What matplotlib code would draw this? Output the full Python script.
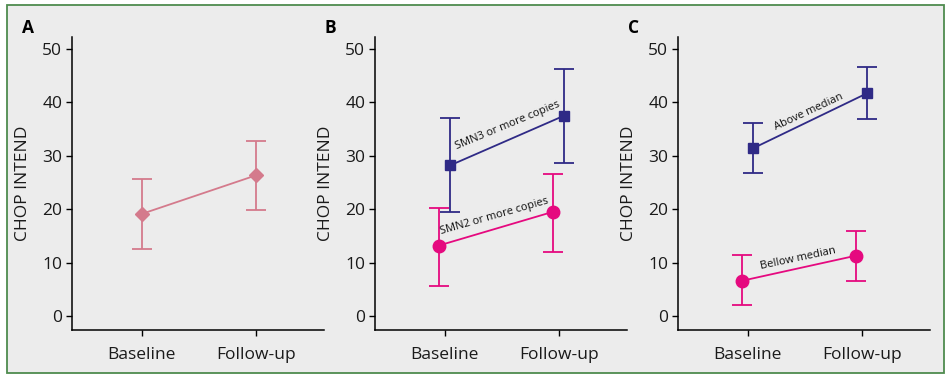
import matplotlib
matplotlib.use("Agg")
import matplotlib.pyplot as plt
from matplotlib.patches import Rectangle

plt.rcParams['font.family'] = ['Open Sans', 'DejaVu Sans']

timepoints = ["Baseline", "Follow-up"]

# Panel A: all patients
a_mean = [19.1, 26.3]
a_low = [12.5, 19.8]
a_high = [25.7, 32.8]

# Panel B: SMN copies
b_smn3_mean = [28.2, 37.5]
b_smn3_low = [19.4, 28.6]
b_smn3_high = [37.1, 46.3]
b_smn2_mean = [13.2, 19.5]
b_smn2_low = [5.7, 12.0]
b_smn2_high = [20.3, 26.6]

# Panel C: median split
c_above_mean = [31.4, 41.7]
c_above_low = [26.8, 36.9]
c_above_high = [36.2, 46.6]
c_below_mean = [6.6, 11.3]
c_below_low = [2.1, 6.6]
c_below_high = [11.4, 16.0]

ROSE = "#d47a8c"
INDIGO = "#2f2a86"
MAGENTA = "#e5097f"

W, H = 950, 375
fig = plt.figure(figsize=(9.5, 3.75), dpi=100, facecolor="white")
fig.patches.append(Rectangle((6.5 / W, 1 - 373 / H), (944 - 6.5) / W, (373 - 5) / H,
                             transform=fig.transFigure, facecolor="#ececec",
                             edgecolor="#4e8b4e", linewidth=1.3, zorder=-10))

lefts = [72, 375, 678]
ax_w = 252
ax_bottom = H - 330
ax_h = 330 - 37
letters = ["A", "B", "C"]


def draw(ax, xs, mean, low, high, color, marker, ms):
    yerr = [[m - l for m, l in zip(mean, low)], [h - m for m, h in zip(mean, high)]]
    ax.errorbar(xs, mean, yerr=yerr, color=color, marker=marker, ms=ms,
                lw=1.3, elinewidth=1.3, capsize=7.5, capthick=1.3, zorder=3)


axes = []
for i, l in enumerate(lefts):
    ax = fig.add_axes([l / W, ax_bottom / H, ax_w / W, ax_h / H])
    ax.set_facecolor("none")
    ax.set_xlim(-0.61, 1.6)
    ax.set_ylim(-2.6, 52.2)
    ax.set_xticks([0, 1])
    ax.set_xticklabels(timepoints, fontsize=12.5, color="#1a1a1a")
    ax.set_yticks([0, 10, 20, 30, 40, 50])
    ax.tick_params(axis='y', labelsize=12.5, length=4, width=1, pad=3, labelcolor="#1a1a1a")
    ax.tick_params(axis='x', length=4, width=1, pad=8)
    for s in ["top", "right"]:
        ax.spines[s].set_visible(False)
    for s in ["left", "bottom"]:
        ax.spines[s].set_linewidth(1.1)
    ax.set_ylabel("CHOP INTEND", fontsize=12.5, labelpad=8, color="#1a1a1a")
    fig.text((l - 50) / W, 1 - 28 / H, letters[i], fontsize=12.5, fontweight="bold",
             ha="left", va="center")
    axes.append(ax)

axA, axB, axC = axes
draw(axA, [0, 1], a_mean, a_low, a_high, ROSE, "D", 7.5)

off = 0.05
draw(axB, [0 + off, 1 + off], b_smn3_mean, b_smn3_low, b_smn3_high, INDIGO, "s", 7)
draw(axB, [0 - off, 1 - off], b_smn2_mean, b_smn2_low, b_smn2_high, MAGENTA, "o", 9)
axB.text(0.55, 35.6, "SMN3 or more copies", fontsize=8, rotation=22.5,
         ha="center", va="center", color="#111111", rotation_mode="anchor")
axB.text(0.44, 18.6, "SMN2 or more copies", fontsize=8, rotation=16,
         ha="center", va="center", color="#111111", rotation_mode="anchor")

draw(axC, [0 + off, 1 + off], c_above_mean, c_above_low, c_above_high, INDIGO, "s", 7)
draw(axC, [0 - off, 1 - off], c_below_mean, c_below_low, c_below_high, MAGENTA, "o", 9)
axC.text(0.54, 38.2, "Above median", fontsize=8, rotation=25,
         ha="center", va="center", color="#111111", rotation_mode="anchor")
axC.text(0.44, 10.8, "Bellow median", fontsize=8, rotation=12,
         ha="center", va="center", color="#111111", rotation_mode="anchor")

fig.savefig("out.png", dpi=100, facecolor="white")
